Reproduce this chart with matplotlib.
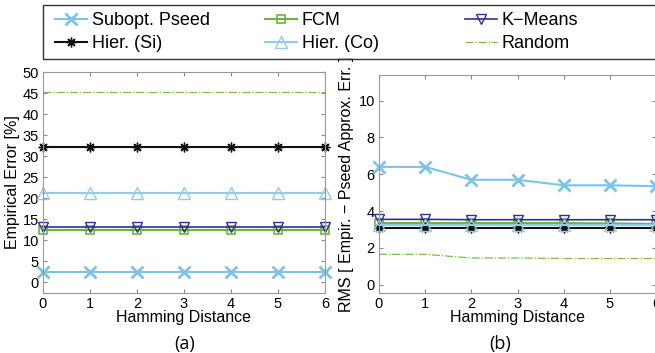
import matplotlib

matplotlib.use("Agg")

import matplotlib.pyplot as plt  # noqa: E402
from matplotlib.patches import Rectangle  # noqa: E402

plt.rcParams["font.family"] = ["Liberation Sans", "DejaVu Sans"]

hamming = [0, 1, 2, 3, 4, 5, 6]

# (a) empirical error [%]
err_subopt = [2.4, 2.4, 2.4, 2.4, 2.4, 2.4, 2.4]
err_fcm = [12.5, 12.5, 12.5, 12.5, 12.5, 12.5, 12.5]
err_kmeans = [13.1, 13.1, 13.1, 13.1, 13.1, 13.1, 13.1]
err_hier_si = [32.2, 32.2, 32.2, 32.2, 32.2, 32.2, 32.2]
err_hier_co = [21.3, 21.3, 21.3, 21.3, 21.3, 21.3, 21.3]
err_random = [45.2, 45.2, 45.2, 45.2, 45.2, 45.2, 45.2]

# (b) RMS of empirical minus pseed approximated error
rms_subopt = [6.4, 6.4, 5.7, 5.7, 5.4, 5.4, 5.35]
rms_fcm = [3.35, 3.35, 3.35, 3.35, 3.35, 3.33, 3.3]
rms_kmeans = [3.55, 3.55, 3.53, 3.53, 3.53, 3.53, 3.53]
rms_hier_si = [3.1, 3.1, 3.1, 3.1, 3.1, 3.1, 3.1]
rms_hier_co = [3.25, 3.25, 3.25, 3.25, 3.25, 3.25, 3.25]
rms_random = [1.65, 1.65, 1.45, 1.45, 1.42, 1.42, 1.42]

labels = ["Subopt. Pseed", "FCM", "K\u2212Means", "Hier. (Si)", "Hier. (Co)", "Random"]

STYLES = [
    dict(color="#7cc3e6", marker="x", ms=8, mew=2.0, lw=1.5),
    dict(color="#6db33f", marker="s", ms=6, mfc="none", mew=1.2, lw=1.5),
    dict(color="#2e3192", marker="v", ms=7, mfc="none", mew=1.0, lw=1.2),
    dict(color="#111111", marker=(8, 2, 0), ms=7, mew=1.0, lw=1.5),
    dict(color="#92cde6", marker="^", ms=8, mfc="none", mew=1.0, lw=1.5),
    dict(color="#77c043", ls="-.", lw=0.9),
]


def style_axes(ax):
    ax.tick_params(direction="in", top=True, right=True, labelsize=10.5,
                   length=3, color="#888888", pad=3)
    for sp in ax.spines.values():
        sp.set_color("#999999")
        sp.set_linewidth(0.8)
    ax.set_xlim(0, 6)
    ax.set_xticks(hamming)
    ax.set_xlabel("Hamming Distance", fontsize=11.5, labelpad=-1)


def draw(ax, series):
    handles = []
    for y, st in zip(series, STYLES):
        (h,) = ax.plot(hamming, y, clip_on=False, **st)
        handles.append(h)
    return handles


fig = plt.figure(figsize=(6.55, 3.53), dpi=100)

ax1 = fig.add_axes([0.0656, 0.170, 0.4305, 0.626])
handles = draw(ax1, [err_subopt, err_fcm, err_kmeans, err_hier_si, err_hier_co, err_random])
ax1.set_ylim(-2.5, 50)
ax1.set_yticks(range(0, 51, 5))
ax1.set_ylabel("Empirical Error [%]", fontsize=11.5, labelpad=2)
style_axes(ax1)

ax2 = fig.add_axes([0.5786, 0.170, 0.423, 0.618])
draw(ax2, [rms_subopt, rms_fcm, rms_kmeans, rms_hier_si, rms_hier_co, rms_random])
ax2.set_ylim(-0.45, 11.4)
ax2.set_yticks(range(0, 11, 2))
ax2.set_ylabel("RMS [ Empir. \u2212 Pseed Approx. Err. ]", fontsize=11.5, labelpad=3)
style_axes(ax2)

fig.text(185 / 655, 0.012, "(a)", fontsize=13, family="Open Sans", ha="center")
fig.text(500 / 655, 0.012, "(b)", fontsize=13, family="Open Sans", ha="center")

# legend: box running off the right edge, three columns of two entries
fig.add_artist(Rectangle((43 / 655, 1 - 59 / 353), 0.99, 54 / 353,
                         transform=fig.transFigure, fill=False,
                         edgecolor="#333333", lw=1.0))
col_x = [55 / 655, 265 / 655, 465 / 655]
for c, x0 in enumerate(col_x):
    idx = [c, c + 3]
    fig.legend([handles[i] for i in idx], [labels[i] for i in idx],
               loc="upper left", bbox_to_anchor=(x0, 1 - 12 / 353),
               fontsize=13, frameon=False, handlelength=1.75,
               handletextpad=0.28, labelspacing=0.36,
               borderpad=0, borderaxespad=0)

fig.savefig("out.png", dpi=100)
